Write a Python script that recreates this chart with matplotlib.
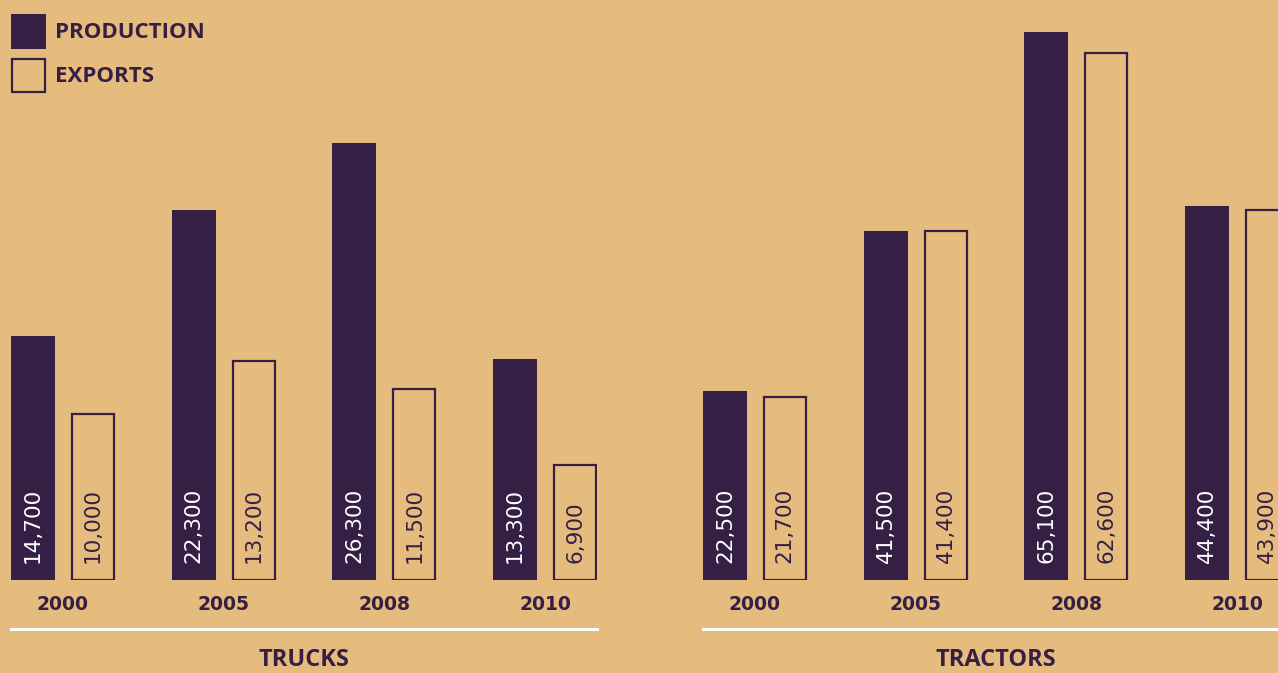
import numpy as np
import matplotlib
matplotlib.use('Agg')
import matplotlib.pyplot as plt
from matplotlib.patches import Rectangle
from matplotlib.lines import Line2D

years = ['2000', '2005', '2008', '2010']
trucks_production = [14700, 22300, 26300, 13300]
trucks_exports = [10000, 13200, 11500, 6900]
tractors_production = [22500, 41500, 65100, 44400]
tractors_exports = [21700, 41400, 62600, 43900]

BG = '#E6BB7E'
PURPLE = '#351F45'
W, H = 1278, 673

plt.rcParams['font.family'] = ['Open Sans', 'DejaVu Sans']

fig = plt.figure(figsize=(W / 100, H / 100), dpi=100, facecolor=BG)

step = 161.0            # pixels between year groups
bar_w = 44 / step
gap = 60 / step         # offset of exports bar from production bar
base_px = 580           # baseline from top


def panel(left_px, prod, exp, ymax, title):
    ax = fig.add_axes([left_px / W, (H - base_px) / H, 586 / W, base_px / H])
    ax.patch.set_alpha(0)
    ax.axis('off')
    x = np.arange(len(years))
    ax.bar(x, prod, width=bar_w, color=PURPLE, align='center')
    ax.bar(x + gap, exp, width=bar_w - 2.0 / step, facecolor='none',
           edgecolor=PURPLE, linewidth=1.6, align='center')
    ax.set_xlim(-bar_w / 2, len(years) - 1 + gap + bar_w / 2)
    ax.set_ylim(0, ymax)

    for i in range(len(years)):
        ax.annotate(f'{prod[i]:,}', (x[i], 0), xytext=(0, 12), textcoords='offset points',
                    rotation=90, ha='center', va='bottom', color='white',
                    fontsize=15.5, family='DejaVu Sans')
        ax.annotate(f'{exp[i]:,}', (x[i] + gap, 0), xytext=(0, 12), textcoords='offset points',
                    rotation=90, ha='center', va='bottom', color=PURPLE,
                    fontsize=15.5, family='DejaVu Sans')
        ax.text(x[i] + gap / 2, -25 / base_px, years[i], transform=ax.get_xaxis_transform(),
                ha='center', va='center', color=PURPLE, fontsize=13.5,
                fontweight='bold', family='DejaVu Sans')

    ax.add_line(Line2D([0, 1], [-49 / base_px] * 2, transform=ax.transAxes,
                       color='white', linewidth=2.2, clip_on=False))
    ax.text(0.5, -80 / base_px, title, transform=ax.transAxes, ha='center', va='center',
            color=PURPLE, fontsize=17, fontweight='bold')
    return ax


panel(11, trucks_production, trucks_exports, 34940, 'TRUCKS')
panel(703, tractors_production, tractors_exports, 68880, 'TRACTORS')

# legend
fig.patches.append(Rectangle((11 / W, 1 - 49 / H), 35 / W, 35 / H, transform=fig.transFigure,
                             facecolor=PURPLE, edgecolor='none'))
fig.patches.append(Rectangle((12 / W, 1 - 91.5 / H), 33 / W, 32 / H, transform=fig.transFigure,
                             facecolor='none', edgecolor=PURPLE, linewidth=1.6))
fig.text(55 / W, 1 - 32 / H, 'PRODUCTION', ha='left', va='center', color=PURPLE,
         fontsize=16, fontweight='bold')
fig.text(55 / W, 1 - 76 / H, 'EXPORTS', ha='left', va='center', color=PURPLE,
         fontsize=16, fontweight='bold')

fig.savefig('out.png', dpi=100, facecolor=BG)
